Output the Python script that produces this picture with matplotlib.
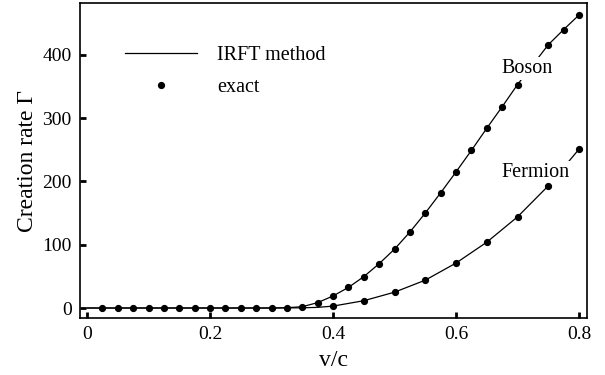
import matplotlib
matplotlib.use("Agg")
from matplotlib import pyplot as plt

plt.rcParams['font.family'] = ['Liberation Serif', 'DejaVu Serif']

# exact values (dots)
boson_x = [0.025, 0.05, 0.075, 0.1, 0.125, 0.15, 0.175, 0.2, 0.225, 0.25, 0.275, 0.3, 0.325, 0.35,
           0.375, 0.4, 0.425, 0.45, 0.475, 0.5, 0.525, 0.55, 0.575, 0.6, 0.625, 0.65, 0.675, 0.7,
           0.75, 0.775, 0.8]
boson_y = [0, 0, 0, 0, 0, 0, 0, 0, 0, 0, 0, 0, 0.5, 2,
           8.5, 19, 32.5, 49.5, 70, 93, 120, 150, 182, 215, 249, 284, 318, 353,
           416, 440, 463]
fermion_x = [0.4, 0.45, 0.5, 0.55, 0.6, 0.65, 0.7, 0.75, 0.8]
fermion_y = [3, 11.5, 25, 44, 71, 104, 144, 193, 251]

# IRFT method (lines)
line_boson_x = [0.0] + boson_x
line_boson_y = [0] + boson_y
line_fermion_x = [0.0, 0.2, 0.3, 0.35, 0.375] + fermion_x
line_fermion_y = [0, 0, 0, 0.3, 1] + fermion_y

fig = plt.figure(figsize=(6.05, 3.75), dpi=100)
ax = fig.add_axes([80/605, 1-318/375, 507/605, 315/375])

ax.plot(line_boson_x, line_boson_y, '-', color='black', lw=0.9, zorder=2, label='IRFT method')
ax.plot(line_fermion_x, line_fermion_y, '-', color='black', lw=0.9, zorder=2)
ax.plot(boson_x, boson_y, 'o', color='black', ms=4.2, zorder=4, label='exact')
ax.plot(fermion_x, fermion_y, 'o', color='black', ms=4.2, zorder=4)

ax.text(0.716, 379, 'Boson', fontsize=14.5, ha='center', va='center', zorder=3,
        bbox=dict(facecolor='white', edgecolor='none', pad=1.5))
ax.text(0.729, 214, 'Fermion', fontsize=14.5, ha='center', va='center', zorder=3,
        bbox=dict(facecolor='white', edgecolor='none', pad=1.5))

ax.set_xlim(-0.0114, 0.813)
ax.set_ylim(-15.8, 482)
ax.set_xticks([0, 0.2, 0.4, 0.6, 0.8])
ax.set_xticklabels(['0', '0.2', '0.4', '0.6', '0.8'])
ax.set_yticks([0, 100, 200, 300, 400])
ax.tick_params(direction='in', length=4, width=2, labelsize=14, pad=6)
for s in ax.spines.values():
    s.set_linewidth(1.2)

ax.set_xlabel('v/c', fontsize=17, labelpad=5)
ax.set_ylabel('Creation rate Γ', fontsize=17, labelpad=3)

ax.legend(loc='upper left', bbox_to_anchor=(0.088, 0.865), frameon=False, fontsize=14.5,
          handlelength=3.6, handletextpad=1.0, labelspacing=0.65, borderpad=0, borderaxespad=0)

fig.savefig('out.png', dpi=100)
